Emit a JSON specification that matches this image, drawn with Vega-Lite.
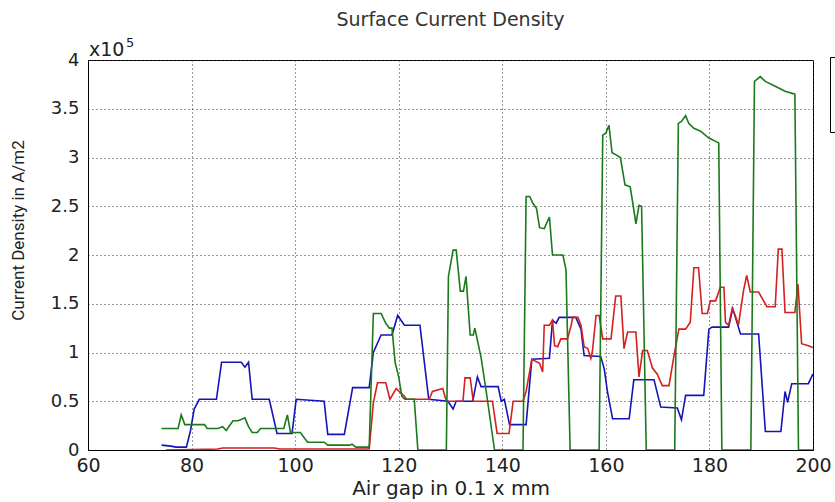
{
  "$schema": "https://vega.github.io/schema/vega-lite/v6.json",
  "autosize": {"type": "none"},
  "width": 725,
  "height": 390,
  "padding": {"left": 88, "top": 60, "right": 22, "bottom": 52},
  "background": "white",
  "title": {"text": "Surface Current Density", "font": "DejaVu Sans", "fontSize": 19, "fontWeight": "normal", "color": "#333333", "offset": 7},
  "config": {
    "view": {"stroke": "black", "strokeWidth": 1},
    "axis": {"gridColor": "#333333", "gridDash": [1, 3], "gridOpacity": 1, "domainColor": "black", "tickSize": 0, "labelFlush": false, "labelFont": "DejaVu Sans", "labelColor": "#222222", "titleColor": "#222222", "titleFontWeight": "normal"}
  },
  "datasets": {
    "curves": [
      {"series": "1 blue", "gap": 74.2, "J": 0.05}, {"series": "1 blue", "gap": 76, "J": 0.04}, {"series": "1 blue", "gap": 77, "J": 0.03}, {"series": "1 blue", "gap": 79, "J": 0.03}, {"series": "1 blue", "gap": 79.8, "J": 0.2}, {"series": "1 blue", "gap": 80.5, "J": 0.42}, {"series": "1 blue", "gap": 81.5, "J": 0.52}, {"series": "1 blue", "gap": 84.8, "J": 0.52}, {"series": "1 blue", "gap": 85.8, "J": 0.9}, {"series": "1 blue", "gap": 89.6, "J": 0.9}, {"series": "1 blue", "gap": 90.3, "J": 0.85}, {"series": "1 blue", "gap": 91, "J": 0.9}, {"series": "1 blue", "gap": 91.7, "J": 0.52}, {"series": "1 blue", "gap": 95, "J": 0.52}, {"series": "1 blue", "gap": 96.5, "J": 0.17}, {"series": "1 blue", "gap": 99.4, "J": 0.17}, {"series": "1 blue", "gap": 100.2, "J": 0.52}, {"series": "1 blue", "gap": 105.6, "J": 0.5}, {"series": "1 blue", "gap": 106.3, "J": 0.16}, {"series": "1 blue", "gap": 109.5, "J": 0.16}, {"series": "1 blue", "gap": 111.1, "J": 0.64}, {"series": "1 blue", "gap": 114.3, "J": 0.64}, {"series": "1 blue", "gap": 115.1, "J": 1.0}, {"series": "1 blue", "gap": 116.6, "J": 1.18}, {"series": "1 blue", "gap": 118.7, "J": 1.18}, {"series": "1 blue", "gap": 119.8, "J": 1.38}, {"series": "1 blue", "gap": 121.1, "J": 1.28}, {"series": "1 blue", "gap": 124.1, "J": 1.28}, {"series": "1 blue", "gap": 125.8, "J": 0.52}, {"series": "1 blue", "gap": 129.5, "J": 0.5}, {"series": "1 blue", "gap": 130.5, "J": 0.42}, {"series": "1 blue", "gap": 131.1, "J": 0.5}, {"series": "1 blue", "gap": 134.3, "J": 0.5}, {"series": "1 blue", "gap": 135.2, "J": 0.75}, {"series": "1 blue", "gap": 135.9, "J": 0.65}, {"series": "1 blue", "gap": 139.2, "J": 0.65}, {"series": "1 blue", "gap": 139.8, "J": 0.5}, {"series": "1 blue", "gap": 140.4, "J": 0.52}, {"series": "1 blue", "gap": 141.4, "J": 0.26}, {"series": "1 blue", "gap": 144.6, "J": 0.26}, {"series": "1 blue", "gap": 145.7, "J": 0.93}, {"series": "1 blue", "gap": 149.1, "J": 0.94}, {"series": "1 blue", "gap": 149.7, "J": 1.33}, {"series": "1 blue", "gap": 150.4, "J": 1.3}, {"series": "1 blue", "gap": 151.0, "J": 1.36}, {"series": "1 blue", "gap": 154.2, "J": 1.36}, {"series": "1 blue", "gap": 155.2, "J": 1.24}, {"series": "1 blue", "gap": 155.8, "J": 0.97}, {"series": "1 blue", "gap": 159.0, "J": 0.96}, {"series": "1 blue", "gap": 159.7, "J": 0.83}, {"series": "1 blue", "gap": 160.3, "J": 0.6}, {"series": "1 blue", "gap": 161.3, "J": 0.32}, {"series": "1 blue", "gap": 164.5, "J": 0.32}, {"series": "1 blue", "gap": 165.4, "J": 0.72}, {"series": "1 blue", "gap": 169.3, "J": 0.72}, {"series": "1 blue", "gap": 170.6, "J": 0.44}, {"series": "1 blue", "gap": 173.8, "J": 0.43}, {"series": "1 blue", "gap": 174.6, "J": 0.31}, {"series": "1 blue", "gap": 175.4, "J": 0.56}, {"series": "1 blue", "gap": 178.9, "J": 0.56}, {"series": "1 blue", "gap": 179.9, "J": 1.24}, {"series": "1 blue", "gap": 180.5, "J": 1.26}, {"series": "1 blue", "gap": 183.7, "J": 1.26}, {"series": "1 blue", "gap": 184.5, "J": 1.45}, {"series": "1 blue", "gap": 186.0, "J": 1.19}, {"series": "1 blue", "gap": 189.5, "J": 1.19}, {"series": "1 blue", "gap": 190.8, "J": 0.19}, {"series": "1 blue", "gap": 193.8, "J": 0.19}, {"series": "1 blue", "gap": 194.6, "J": 0.6}, {"series": "1 blue", "gap": 195.1, "J": 0.49}, {"series": "1 blue", "gap": 195.9, "J": 0.68}, {"series": "1 blue", "gap": 199.1, "J": 0.68}, {"series": "1 blue", "gap": 200, "J": 0.78},

      {"series": "2 red", "gap": 75, "J": 0.0}, {"series": "2 red", "gap": 85, "J": 0.01}, {"series": "2 red", "gap": 86, "J": 0.02}, {"series": "2 red", "gap": 96, "J": 0.02}, {"series": "2 red", "gap": 97, "J": 0.01}, {"series": "2 red", "gap": 114.3, "J": 0.01}, {"series": "2 red", "gap": 115.1, "J": 0.48}, {"series": "2 red", "gap": 115.9, "J": 0.69}, {"series": "2 red", "gap": 117.5, "J": 0.69}, {"series": "2 red", "gap": 118.3, "J": 0.52}, {"series": "2 red", "gap": 119.5, "J": 0.63}, {"series": "2 red", "gap": 120.1, "J": 0.6}, {"series": "2 red", "gap": 121.1, "J": 0.55}, {"series": "2 red", "gap": 121.5, "J": 0.52}, {"series": "2 red", "gap": 125.9, "J": 0.52}, {"series": "2 red", "gap": 126.5, "J": 0.6}, {"series": "2 red", "gap": 128.5, "J": 0.63}, {"series": "2 red", "gap": 129.2, "J": 0.5}, {"series": "2 red", "gap": 132.4, "J": 0.5}, {"series": "2 red", "gap": 132.8, "J": 0.74}, {"series": "2 red", "gap": 133.8, "J": 0.74}, {"series": "2 red", "gap": 134.4, "J": 0.5}, {"series": "2 red", "gap": 138.1, "J": 0.5}, {"series": "2 red", "gap": 139.0, "J": 0.17}, {"series": "2 red", "gap": 141.3, "J": 0.17}, {"series": "2 red", "gap": 142.1, "J": 0.5}, {"series": "2 red", "gap": 144.0, "J": 0.5}, {"series": "2 red", "gap": 144.6, "J": 0.6}, {"series": "2 red", "gap": 145.7, "J": 0.93}, {"series": "2 red", "gap": 147.2, "J": 0.89}, {"series": "2 red", "gap": 147.8, "J": 0.8}, {"series": "2 red", "gap": 148.1, "J": 1.28}, {"series": "2 red", "gap": 149.1, "J": 1.28}, {"series": "2 red", "gap": 149.7, "J": 1.33}, {"series": "2 red", "gap": 150.1, "J": 1.07}, {"series": "2 red", "gap": 150.7, "J": 1.06}, {"series": "2 red", "gap": 151.3, "J": 1.14}, {"series": "2 red", "gap": 152.6, "J": 1.14}, {"series": "2 red", "gap": 153.3, "J": 1.28}, {"series": "2 red", "gap": 153.6, "J": 1.36}, {"series": "2 red", "gap": 154.6, "J": 1.36}, {"series": "2 red", "gap": 155.2, "J": 1.28}, {"series": "2 red", "gap": 155.8, "J": 1.06}, {"series": "2 red", "gap": 156.5, "J": 1.04}, {"series": "2 red", "gap": 157.1, "J": 0.94}, {"series": "2 red", "gap": 157.4, "J": 1.01}, {"series": "2 red", "gap": 158.1, "J": 1.38}, {"series": "2 red", "gap": 158.7, "J": 1.38}, {"series": "2 red", "gap": 159.4, "J": 1.14}, {"series": "2 red", "gap": 161.0, "J": 1.14}, {"series": "2 red", "gap": 161.9, "J": 1.58}, {"series": "2 red", "gap": 162.9, "J": 1.58}, {"series": "2 red", "gap": 163.5, "J": 1.04}, {"series": "2 red", "gap": 164.2, "J": 1.21}, {"series": "2 red", "gap": 165.8, "J": 1.21}, {"series": "2 red", "gap": 166.4, "J": 0.75}, {"series": "2 red", "gap": 167.1, "J": 1.02}, {"series": "2 red", "gap": 168.0, "J": 1.02}, {"series": "2 red", "gap": 169.0, "J": 0.84}, {"series": "2 red", "gap": 169.9, "J": 0.78}, {"series": "2 red", "gap": 170.9, "J": 0.66}, {"series": "2 red", "gap": 172.2, "J": 0.66}, {"series": "2 red", "gap": 173.1, "J": 0.95}, {"series": "2 red", "gap": 174.1, "J": 1.24}, {"series": "2 red", "gap": 175.4, "J": 1.24}, {"series": "2 red", "gap": 176.3, "J": 1.31}, {"series": "2 red", "gap": 177.0, "J": 1.87}, {"series": "2 red", "gap": 177.9, "J": 1.87}, {"series": "2 red", "gap": 178.6, "J": 1.4}, {"series": "2 red", "gap": 179.6, "J": 1.4}, {"series": "2 red", "gap": 180.2, "J": 1.53}, {"series": "2 red", "gap": 181.2, "J": 1.53}, {"series": "2 red", "gap": 182.1, "J": 1.67}, {"series": "2 red", "gap": 182.8, "J": 1.67}, {"series": "2 red", "gap": 183.1, "J": 1.31}, {"series": "2 red", "gap": 183.7, "J": 1.28}, {"series": "2 red", "gap": 184.4, "J": 1.45}, {"series": "2 red", "gap": 185.0, "J": 1.38}, {"series": "2 red", "gap": 185.6, "J": 1.28}, {"series": "2 red", "gap": 186.6, "J": 1.64}, {"series": "2 red", "gap": 187.2, "J": 1.79}, {"series": "2 red", "gap": 187.9, "J": 1.62}, {"series": "2 red", "gap": 189.5, "J": 1.62}, {"series": "2 red", "gap": 191.1, "J": 1.47}, {"series": "2 red", "gap": 192.7, "J": 1.47}, {"series": "2 red", "gap": 193.3, "J": 2.06}, {"series": "2 red", "gap": 194.0, "J": 2.06}, {"series": "2 red", "gap": 194.6, "J": 1.41}, {"series": "2 red", "gap": 196.5, "J": 1.41}, {"series": "2 red", "gap": 197.1, "J": 1.7}, {"series": "2 red", "gap": 197.8, "J": 1.09}, {"series": "2 red", "gap": 199.1, "J": 1.07}, {"series": "2 red", "gap": 200, "J": 1.05},

      {"series": "3 green", "gap": 74.2, "J": 0.22}, {"series": "3 green", "gap": 77.4, "J": 0.22}, {"series": "3 green", "gap": 78, "J": 0.36}, {"series": "3 green", "gap": 78.7, "J": 0.26}, {"series": "3 green", "gap": 82.5, "J": 0.26}, {"series": "3 green", "gap": 83, "J": 0.22}, {"series": "3 green", "gap": 85.1, "J": 0.22}, {"series": "3 green", "gap": 86, "J": 0.24}, {"series": "3 green", "gap": 86.7, "J": 0.2}, {"series": "3 green", "gap": 88, "J": 0.3}, {"series": "3 green", "gap": 89, "J": 0.3}, {"series": "3 green", "gap": 90.3, "J": 0.33}, {"series": "3 green", "gap": 91, "J": 0.24}, {"series": "3 green", "gap": 91.7, "J": 0.18}, {"series": "3 green", "gap": 92.7, "J": 0.18}, {"series": "3 green", "gap": 93.3, "J": 0.22}, {"series": "3 green", "gap": 97.8, "J": 0.22}, {"series": "3 green", "gap": 98.5, "J": 0.36}, {"series": "3 green", "gap": 99.1, "J": 0.18}, {"series": "3 green", "gap": 101, "J": 0.18}, {"series": "3 green", "gap": 102.4, "J": 0.08}, {"series": "3 green", "gap": 105.6, "J": 0.08}, {"series": "3 green", "gap": 106.3, "J": 0.05}, {"series": "3 green", "gap": 110.5, "J": 0.05}, {"series": "3 green", "gap": 111, "J": 0.06}, {"series": "3 green", "gap": 111.7, "J": 0.03}, {"series": "3 green", "gap": 114.3, "J": 0.03}, {"series": "3 green", "gap": 115.1, "J": 1.4}, {"series": "3 green", "gap": 116.6, "J": 1.4}, {"series": "3 green", "gap": 117.5, "J": 1.3}, {"series": "3 green", "gap": 118.2, "J": 1.25}, {"series": "3 green", "gap": 118.7, "J": 1.25}, {"series": "3 green", "gap": 119.3, "J": 0.9}, {"series": "3 green", "gap": 120, "J": 0.75}, {"series": "3 green", "gap": 120.6, "J": 0.55}, {"series": "3 green", "gap": 121.2, "J": 0.52}, {"series": "3 green", "gap": 123, "J": 0.52}, {"series": "3 green", "gap": 123.7, "J": 0}, {"series": "3 green", "gap": 129.2, "J": 0}, {"series": "3 green", "gap": 129.6, "J": 1.78}, {"series": "3 green", "gap": 130.5, "J": 2.05}, {"series": "3 green", "gap": 131.1, "J": 2.05}, {"series": "3 green", "gap": 131.9, "J": 1.63}, {"series": "3 green", "gap": 132.5, "J": 1.63}, {"series": "3 green", "gap": 133, "J": 1.78}, {"series": "3 green", "gap": 133.8, "J": 1.18}, {"series": "3 green", "gap": 134.4, "J": 1.18}, {"series": "3 green", "gap": 134.7, "J": 1.25}, {"series": "3 green", "gap": 135.9, "J": 0.95}, {"series": "3 green", "gap": 136.9, "J": 0.6}, {"series": "3 green", "gap": 137.7, "J": 0.3}, {"series": "3 green", "gap": 138.5, "J": 0}, {"series": "3 green", "gap": 144, "J": 0}, {"series": "3 green", "gap": 144.6, "J": 2.6}, {"series": "3 green", "gap": 145.3, "J": 2.6}, {"series": "3 green", "gap": 145.9, "J": 2.53}, {"series": "3 green", "gap": 146.6, "J": 2.48}, {"series": "3 green", "gap": 147.2, "J": 2.28}, {"series": "3 green", "gap": 148.1, "J": 2.27}, {"series": "3 green", "gap": 149.1, "J": 2.39}, {"series": "3 green", "gap": 149.7, "J": 2.0}, {"series": "3 green", "gap": 151.7, "J": 2.0}, {"series": "3 green", "gap": 152.3, "J": 1.85}, {"series": "3 green", "gap": 153.1, "J": 0}, {"series": "3 green", "gap": 158.7, "J": 0}, {"series": "3 green", "gap": 159.4, "J": 3.23}, {"series": "3 green", "gap": 160, "J": 3.25}, {"series": "3 green", "gap": 160.6, "J": 3.33}, {"series": "3 green", "gap": 161.2, "J": 3.05}, {"series": "3 green", "gap": 161.9, "J": 3.03}, {"series": "3 green", "gap": 162.8, "J": 3.0}, {"series": "3 green", "gap": 163.7, "J": 2.72}, {"series": "3 green", "gap": 164.7, "J": 2.7}, {"series": "3 green", "gap": 165.3, "J": 2.5}, {"series": "3 green", "gap": 165.8, "J": 2.32}, {"series": "3 green", "gap": 166.4, "J": 2.51}, {"series": "3 green", "gap": 166.9, "J": 2.5}, {"series": "3 green", "gap": 167.8, "J": 0}, {"series": "3 green", "gap": 173.3, "J": 0}, {"series": "3 green", "gap": 174, "J": 3.35}, {"series": "3 green", "gap": 174.6, "J": 3.37}, {"series": "3 green", "gap": 175.4, "J": 3.43}, {"series": "3 green", "gap": 176, "J": 3.35}, {"series": "3 green", "gap": 177, "J": 3.3}, {"series": "3 green", "gap": 178.3, "J": 3.27}, {"series": "3 green", "gap": 179.9, "J": 3.2}, {"series": "3 green", "gap": 181.8, "J": 3.15}, {"series": "3 green", "gap": 182.4, "J": 0}, {"series": "3 green", "gap": 188, "J": 0}, {"series": "3 green", "gap": 188.7, "J": 3.78}, {"series": "3 green", "gap": 189.8, "J": 3.83}, {"series": "3 green", "gap": 190.8, "J": 3.78}, {"series": "3 green", "gap": 192.7, "J": 3.73}, {"series": "3 green", "gap": 194.6, "J": 3.68}, {"series": "3 green", "gap": 196.5, "J": 3.65}, {"series": "3 green", "gap": 197.2, "J": 0}, {"series": "3 green", "gap": 200, "J": 0}
    ]
  },
  "layer": [
    {
      "data": {"name": "curves"},
      "mark": {"type": "line", "strokeWidth": 1.6, "clip": true},
      "encoding": {
        "x": {"field": "gap", "type": "quantitative", "scale": {"domain": [60, 200], "nice": false},
          "axis": {"values": [60, 80, 100, 120, 140, 160, 180, 200], "title": "Air gap in 0.1 x mm", "labelFontSize": 19, "labelPadding": 6, "titleFont": "DejaVu Sans", "titleFontSize": 20, "titlePadding": 3}},
        "y": {"field": "J", "type": "quantitative", "scale": {"domain": [0, 4], "nice": false},
          "axis": {"values": [0, 0.5, 1, 1.5, 2, 2.5, 3, 3.5, 4], "format": "~g", "title": "Current Density in A/m2", "labelFontSize": 18, "labelPadding": 9, "titleFont": "Roboto", "titleFontSize": 17, "titleX": -70, "titleY": 170, "titleBaseline": "middle"}},
        "color": {"field": "series", "type": "nominal",
          "scale": {"domain": ["1 blue", "2 red", "3 green"], "range": ["#1414b8", "#d42020", "#1a7a1a"]},
          "legend": {"orient": "none", "legendX": 742, "legendY": -3, "title": null, "labelExpr": "''", "strokeColor": "black", "fillColor": "white", "padding": 12, "rowPadding": 9, "symbolStrokeWidth": 1.5}}
      }
    },
    {
      "data": {"values": [{"t": "x10"}]},
      "mark": {"type": "text", "align": "left", "baseline": "alphabetic", "dx": 1, "dy": -4, "font": "DejaVu Sans", "fontSize": 19, "color": "#222222"},
      "encoding": {"x": {"datum": 60}, "y": {"datum": 4}, "text": {"field": "t"}}
    },
    {
      "data": {"values": [{"t": "5"}]},
      "mark": {"type": "text", "align": "left", "baseline": "alphabetic", "dx": 38, "dy": -13, "font": "DejaVu Sans", "fontSize": 13, "color": "#222222"},
      "encoding": {"x": {"datum": 60}, "y": {"datum": 4}, "text": {"field": "t"}}
    }
  ]
}
